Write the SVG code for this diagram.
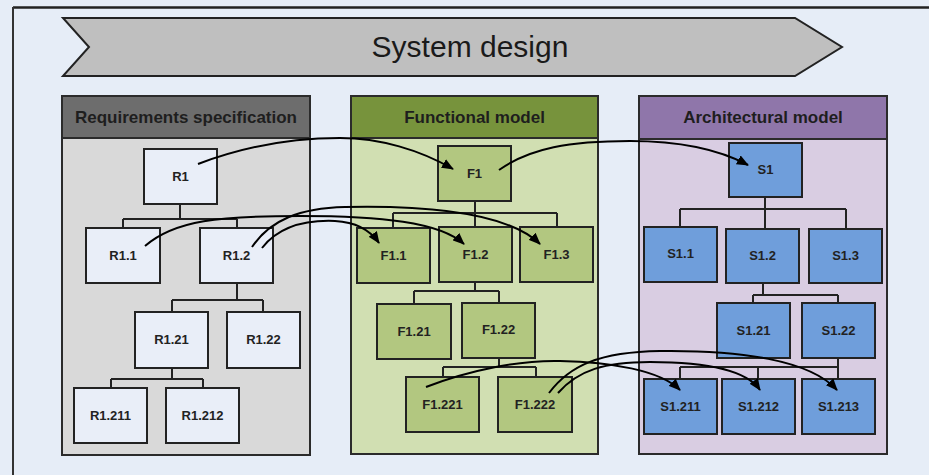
<svg xmlns="http://www.w3.org/2000/svg" width="929" height="475" viewBox="0 0 929 475">
<style>
.bg{fill:#e6edf7}
.panel{stroke:#2b2b2b;stroke-width:2}
.hdr{font-family:"Liberation Sans",Arial,sans-serif;font-weight:bold;font-size:17px;fill:#1e1e1e;text-anchor:middle}
.lbl{font-family:"Liberation Sans",Arial,sans-serif;font-weight:bold;font-size:13px;fill:#222;text-anchor:middle}
.node{stroke:#222;stroke-width:2}
.rn{fill:#e9eef8}
.fn{fill:#b2c780}
.sn{fill:#6f9edb}
.tree{fill:none;stroke:#222;stroke-width:2}
.conn{fill:none;stroke:#000;stroke-width:2}
</style>
<defs>
<marker id="ah" viewBox="0 0 12 10" refX="11" refY="5" markerWidth="12" markerHeight="10" markerUnits="userSpaceOnUse" orient="auto">
<path d="M0,0 L12,5 L0,10 Z" fill="#000"/>
</marker>
</defs>
<rect class="bg" x="0" y="0" width="929" height="475"/>
<line x1="13" y1="7.5" x2="929" y2="7.5" stroke="#222" stroke-width="2.5"/>
<line x1="13" y1="7" x2="13" y2="475" stroke="#333" stroke-width="2"/>

<g id="banner">
<polygon points="63,18 795,18 842,47 795,76 63,76 89,47" fill="#bfbfbf" stroke="#222" stroke-width="2"/>
<text x="470" y="57" font-family="'Liberation Sans',Arial,sans-serif" font-size="30" fill="#1a1a1a" text-anchor="middle">System design</text>
</g>

<g id="panel-req">
<rect class="panel" x="62" y="138" width="248" height="317" fill="#d9d9d9"/>
<rect class="panel" x="62" y="96" width="248" height="42" fill="#6d6d6d"/>
<text class="hdr" x="186" y="123">Requirements specification</text>
</g>
<g id="panel-func">
<rect class="panel" x="351" y="138" width="247" height="316" fill="#d1dfb2"/>
<rect class="panel" x="351" y="96" width="247" height="42" fill="#77933c"/>
<text class="hdr" x="474.5" y="123">Functional model</text>
</g>
<g id="panel-arch">
<rect class="panel" x="639" y="139" width="248" height="315" fill="#d9cde2"/>
<rect class="panel" x="639" y="96" width="248" height="43" fill="#8f76aa"/>
<text class="hdr" x="763" y="123">Architectural model</text>
</g>

<g id="tree-lines">
<path class="tree" d="M180,204 V219 M123,219 H237 M123,219 V228 M237,219 V228"/>
<path class="tree" d="M237,283 V300 M172,300 H263 M172,300 V312 M263,300 V312"/>
<path class="tree" d="M172,368 V379 M111,379 H203 M111,379 V388 M203,379 V388"/>
<path class="tree" d="M475,201 V213 M393,213 H557 M393,213 V228 M475,213 V227 M557,213 V227"/>
<path class="tree" d="M475,282 V291 M414,291 H499 M414,291 V304 M499,291 V303"/>
<path class="tree" d="M499,358 V367 M443,367 H536 M443,367 V377 M536,367 V377"/>
<path class="tree" d="M765,197 V209 M680,209 H846 M680,209 V227 M765,209 V229 M846,209 V229"/>
<path class="tree" d="M763,283 V295 M753,295 H838 M753,295 V303 M838,295 V303"/>
<path class="tree" d="M838,358 V379 M680,367 H838 M680,367 V379 M758,367 V379"/>
</g>

<g id="R1"><rect class="node rn" x="144" y="149" width="73" height="55"/><text class="lbl" x="180.5" y="181">R1</text></g>
<g id="R1.1"><rect class="node rn" x="86" y="228" width="74" height="55"/><text class="lbl" x="123" y="260">R1.1</text></g>
<g id="R1.2"><rect class="node rn" x="200" y="228" width="73" height="55"/><text class="lbl" x="236.5" y="260">R1.2</text></g>
<g id="R1.21"><rect class="node rn" x="135" y="312" width="73" height="56"/><text class="lbl" x="171.5" y="344">R1.21</text></g>
<g id="R1.22"><rect class="node rn" x="227" y="312" width="73" height="56"/><text class="lbl" x="263.5" y="344">R1.22</text></g>
<g id="R1.211"><rect class="node rn" x="74" y="388" width="73" height="55"/><text class="lbl" x="110.5" y="420">R1.211</text></g>
<g id="R1.212"><rect class="node rn" x="166" y="388" width="73" height="55"/><text class="lbl" x="202.5" y="420">R1.212</text></g>

<g id="F1"><rect class="node fn" x="438" y="146" width="73" height="55"/><text class="lbl" x="474.5" y="178">F1</text></g>
<g id="F1.1"><rect class="node fn" x="357" y="228" width="73" height="55"/><text class="lbl" x="393.5" y="260">F1.1</text></g>
<g id="F1.2"><rect class="node fn" x="439" y="227" width="73" height="55"/><text class="lbl" x="475.5" y="259">F1.2</text></g>
<g id="F1.3"><rect class="node fn" x="520" y="227" width="73" height="55"/><text class="lbl" x="556.5" y="259">F1.3</text></g>
<g id="F1.21"><rect class="node fn" x="377" y="304" width="74" height="55"/><text class="lbl" x="414" y="336">F1.21</text></g>
<g id="F1.22"><rect class="node fn" x="462" y="303" width="73" height="55"/><text class="lbl" x="498.5" y="334">F1.22</text></g>
<g id="F1.221"><rect class="node fn" x="406" y="377" width="73" height="55"/><text class="lbl" x="442.5" y="409">F1.221</text></g>
<g id="F1.222"><rect class="node fn" x="498" y="377" width="74" height="55"/><text class="lbl" x="535" y="409">F1.222</text></g>

<g id="S1"><rect class="node sn" x="729" y="143" width="73" height="54"/><text class="lbl" x="765.5" y="174">S1</text></g>
<g id="S1.1"><rect class="node sn" x="644" y="227" width="73" height="55"/><text class="lbl" x="680.5" y="258">S1.1</text></g>
<g id="S1.2"><rect class="node sn" x="726" y="229" width="73" height="54"/><text class="lbl" x="762.5" y="260">S1.2</text></g>
<g id="S1.3"><rect class="node sn" x="809" y="229" width="73" height="54"/><text class="lbl" x="845.5" y="260">S1.3</text></g>
<g id="S1.21"><rect class="node sn" x="717" y="303" width="73" height="55"/><text class="lbl" x="753.5" y="335">S1.21</text></g>
<g id="S1.22"><rect class="node sn" x="802" y="303" width="73" height="55"/><text class="lbl" x="838.5" y="335">S1.22</text></g>
<g id="S1.211"><rect class="node sn" x="644" y="379" width="73" height="55"/><text class="lbl" x="680.5" y="411">S1.211</text></g>
<g id="S1.212"><rect class="node sn" x="722" y="379" width="73" height="55"/><text class="lbl" x="758.5" y="411">S1.212</text></g>
<g id="S1.213"><rect class="node sn" x="802" y="379" width="73" height="55"/><text class="lbl" x="838.5" y="411">S1.213</text></g>

<g id="connectors">
<path class="conn" marker-end="url(#ah)" d="M198,164 C240,148 290,138 340,138 C380,138 420,150 453,169"/>
<path class="conn" marker-end="url(#ah)" d="M499,170 C530,148 570,141 630,141 C680,141 720,150 748,165"/>
<path class="conn" marker-end="url(#ah)" d="M252,247 C270,220 300,208 345,207 C440,205 510,215 540,244"/>
<path class="conn" marker-end="url(#ah)" d="M145,246 C175,220 220,216 300,216 C380,216 440,222 464,244"/>
<path class="conn" marker-end="url(#ah)" d="M262,248 C280,225 310,220 335,221 C355,222 370,230 379,243"/>
<path class="conn" marker-end="url(#ah)" d="M426,387 C470,370 520,360 560,361 C610,362 660,370 680,390"/>
<path class="conn" marker-end="url(#ah)" d="M549,393 C570,365 600,352 660,351 C740,350 810,360 837,390"/>
<path class="conn" marker-end="url(#ah)" d="M558,393 C578,370 605,362 650,362 C700,362 745,368 760,390"/>
</g>
</svg>
